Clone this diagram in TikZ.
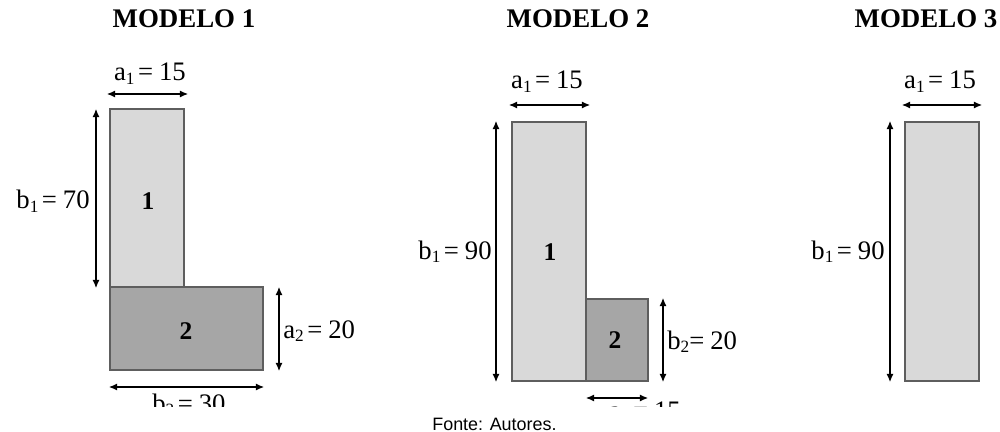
\documentclass[tikz,border=0pt]{standalone}
\usepackage{fontspec}
\setmainfont{Liberation Serif}
\newfontfamily\arialfont{Liberation Sans}
\usetikzlibrary{arrows.meta}
\definecolor{lightfill}{HTML}{D9D9D9}
\definecolor{darkfill}{HTML}{A6A6A6}
\definecolor{edgegray}{HTML}{5E5E5E}
\newcommand{\sublab}[3]{#1\raisebox{-2pt}{\fontsize{9.8}{10}\selectfont #2}\hspace{2pt}=\hspace{3.4pt}#3}
\tikzset{
  lightbox/.style={fill=lightfill,draw=edgegray,line width=1.1pt},
  darkbox/.style={fill=darkfill,draw=edgegray,line width=1.1pt},
  dim/.style={line width=0.6pt,{Latex[length=4.6pt,width=4pt]}-{Latex[length=4.6pt,width=4pt]}},
  lab/.style={inner sep=0pt,font=\fontsize{15.2}{17}\selectfont},
  ttl/.style={inner sep=0pt,font=\fontsize{15.3}{18}\selectfont\bfseries},
  num/.style={inner sep=0pt,font=\fontsize{14.5}{17}\selectfont\bfseries},
}
\begin{document}
\begin{tikzpicture}[x=0.02cm,y=-0.02cm]
\useasboundingbox (0,0) rectangle (1000,432);
% ---------- MODELO 1 ----------
\node[ttl,anchor=base] (t1) at (184,28) {MODELO 1};
\path[lightbox] (110,109) rectangle (184,287);
\path[darkbox] (110,287) rectangle (263,370);
\node[num,anchor=base] (m1n1) at (148,210) {1};
\node[num,anchor=base] (m1n2) at (186,339) {2};
\coordinate (m1a1l) at (107,94); \coordinate (m1a1r) at (188,94);
\draw[dim] (m1a1l) -- (m1a1r);
\node[lab,anchor=base] (m1a1) at (150,81) {\sublab{a}{1}{15}};
\coordinate (m1b1t) at (96,109); \coordinate (m1b1b) at (96,288);
\draw[dim] (m1b1t) -- (m1b1b);
\node[lab,anchor=base east] (m1b1) at (90,209) {\sublab{b}{1}{70}};
\coordinate (m1a2t) at (279,287); \coordinate (m1a2b) at (279,371);
\draw[dim] (m1a2t) -- (m1a2b);
\node[lab,anchor=base west] (m1a2) at (283,338) {\sublab{a}{2}{20}};
\coordinate (m1b2l) at (109,387); \coordinate (m1b2r) at (264,387);
\draw[dim] (m1b2l) -- (m1b2r);
% ---------- MODELO 2 ----------
\node[ttl,anchor=base] (t2) at (578,28) {MODELO 2};
\path[lightbox] (512,122) rectangle (586,381);
\path[darkbox] (586,299) rectangle (648,381);
\node[num,anchor=base] (m2n1) at (550,260) {1};
\node[num,anchor=base] (m2n2) at (615,348) {2};
\coordinate (m2a1l) at (509,105); \coordinate (m2a1r) at (590,105);
\draw[dim] (m2a1l) -- (m2a1r);
\node[lab,anchor=base] (m2a1) at (547,89) {\sublab{a}{1}{15}};
\coordinate (m2b1t) at (496,121); \coordinate (m2b1b) at (496,382);
\draw[dim] (m2b1t) -- (m2b1b);
\node[lab,anchor=base east] (m2b1) at (492,259) {\sublab{b}{1}{90}};
\coordinate (m2b2t) at (663,298); \coordinate (m2b2b) at (663,382);
\draw[dim] (m2b2t) -- (m2b2b);
\node[lab,anchor=base west] (m2b2) at (667,349) {b\raisebox{-2pt}{\fontsize{9.8}{10}\selectfont 2}=\hspace{3.4pt}20};
\coordinate (m2a2l) at (586,398); \coordinate (m2a2r) at (648,398);
\draw[dim] (m2a2l) -- (m2a2r);
% clipped bottom labels
\begin{scope}
\clip (0,0) rectangle (1000,406.5);
\node[lab,anchor=base] (m1b2) at (189,412) {\sublab{b}{2}{30}};
\node[lab,anchor=base] (m2a2) at (645,419) {\sublab{a}{2}{15}};
\end{scope}
\node[inner sep=0pt,anchor=base west,font=\arialfont\fontsize{10.2}{12}\selectfont] (src) at (432,430) {Fonte: Autores.};
% ---------- MODELO 3 ----------
\node[ttl,anchor=base] (t3) at (926,28) {MODELO 3};
\path[lightbox] (905,122) rectangle (979,381);
\coordinate (m3a1l) at (902,105); \coordinate (m3a1r) at (982,105);
\draw[dim] (m3a1l) -- (m3a1r);
\node[lab,anchor=base] (m3a1) at (940,89) {\sublab{a}{1}{15}};
\coordinate (m3b1t) at (890,121); \coordinate (m3b1b) at (890,382);
\draw[dim] (m3b1t) -- (m3b1b);
\node[lab,anchor=base east] (m3b1) at (885,259) {\sublab{b}{1}{90}};
\end{tikzpicture}
\end{document}
